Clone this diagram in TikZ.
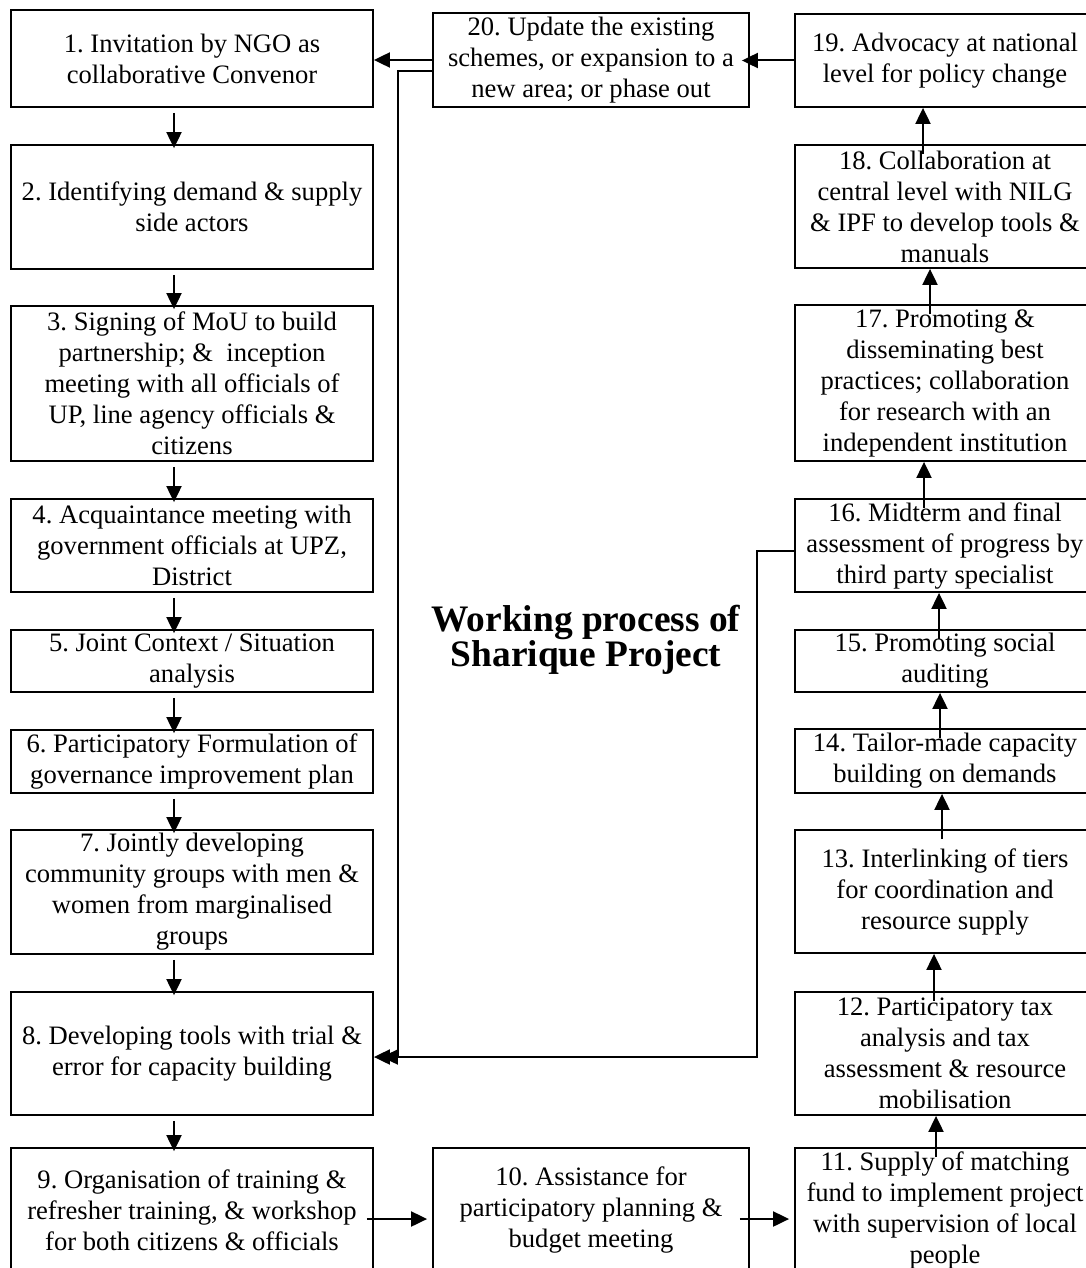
\documentclass[tikz,border=0pt]{standalone}
\usepackage{fontspec}
\setmainfont{Liberation Serif}
\frenchspacing
\usetikzlibrary{arrows.meta}
\tikzset{
>={Triangle[length=8pt,width=7.5pt]}, % filled arrow heads
step box/.style={draw, line width=0.9pt, inner sep=0pt, align=center, font=\fontsize{13.3pt}{15.5pt}\selectfont}, % every numbered box
left box/.style={step box, minimum width=181pt}, % steps 1-9
mid box/.style={step box, minimum width=158pt}, % steps 10 and 20
right box/.style={step box, minimum width=150pt}, % steps 11-19
flow/.style={->, line width=1pt}, % connectors
}
\begin{document}
\begin{tikzpicture}[x=0.5pt, y=-0.5pt]
  \useasboundingbox (0,0) rectangle (1086,1268);

  % left column, going down
  \node[left box, minimum height=48.5pt] (n1) at (192,58.5) {1. Invitation by NGO as\\collaborative Convenor};
  \node[left box, minimum height=62pt] (n2) at (192,207) {2. Identifying demand \& supply\\side actors};
  \node[left box, minimum height=77.5pt] (n3) at (192,383.5) {3. Signing of MoU to build\\partnership; \&\ \ inception\\meeting with all officials of\\UP, line agency officials \&\\citizens};
  \node[left box, minimum height=46.5pt] (n4) at (192,545.5) {4. Acquaintance meeting with\\government officials at UPZ,\\District};
  \node[left box, minimum height=31pt] (n5) at (192,661) {5. Joint Context / Situation\\analysis};
  \node[left box, minimum height=31.5pt] (n6) at (192,761.5) {6. Participatory Formulation of\\governance improvement plan};
  \node[left box, minimum height=62pt] (n7) at (192,892) {7. Jointly developing\\community groups with men \&\\women from marginalised\\groups};
  \node[left box, minimum height=61.5pt] (n8) at (192,1053.5) {8. Developing tools with trial \&\\error for capacity building};
  \node[left box, minimum height=62pt] (n9) at (192,1210) {9. Organisation of training \&\\refresher training, \& workshop\\for both citizens \& officials};

  % middle
  \node[mid box, minimum height=62pt] (n10) at (591,1210) {10. Assistance for\\participatory planning \&\\budget meeting};
  \node[mid box, minimum height=47pt] (n20) at (591,60) {20. Update the existing\\schemes, or expansion to a\\new area; or phase out};
  \node[font=\fontsize{18.7pt}{17.5pt}\selectfont\bfseries, align=center] (title) at (586,640) {Working process of\\Sharique Project};

  % right column, going up
  \node[right box, minimum height=62pt] (n11) at (945,1210) {11. Supply of matching\\fund to implement project\\with supervision of local\\people};
  \node[right box, minimum height=61.5pt] (n12) at (945,1053.5) {12. Participatory tax\\analysis and tax\\assessment \& resource\\mobilisation};
  \node[right box, minimum height=61.5pt] (n13) at (945,891.5) {13. Interlinking of tiers\\for coordination and\\resource supply};
  \node[right box, minimum height=32pt] (n14) at (945,761) {14. Tailor-made capacity\\building on demands};
  \node[right box, minimum height=31pt] (n15) at (945,661) {15. Promoting social\\auditing};
  \node[right box, minimum height=46.5pt] (n16) at (945,545.5) {16. Midterm and final\\assessment of progress by\\third party specialist};
  \node[right box, minimum height=78pt] (n17) at (945,383) {17. Promoting \&\\disseminating best\\practices; collaboration\\for research with an\\independent institution};
  \node[right box, minimum height=61.5pt] (n18) at (945,206.5) {18. Collaboration at\\central level with NILG\\\& IPF to develop tools \&\\manuals};
  \node[right box, minimum height=46.5pt] (n19) at (945,60.5) {19. Advocacy at national\\level for policy change};

  % down the left side
  \foreach \a/\b in {n1/n2, n2/n3, n3/n4, n4/n5, n5/n6, n6/n7, n7/n8, n8/n9}
    \draw[flow, shorten <=2.5pt, shorten >=-2pt] ([xshift=-9pt]\a.south) -- ([xshift=-9pt]\b.north);

  % up the right side
  \foreach \a/\b/\d in {n11/n12/-4.5, n12/n13/-5.5, n13/n14/-1.5, n14/n15/-2.5, n15/n16/-3, n16/n17/-10.5, n17/n18/-7.5, n18/n19/-11}
    \draw[flow, shorten <=-5pt] ([xshift=\d pt]\a.north) -- ([xshift=\d pt]\b.south);

  % along the bottom and the top
  \draw[flow, shorten <=-3.5pt, shorten >=2.5pt] ([yshift=-4.5pt]n9.east) -- ([yshift=-4.5pt]n10.west);
  \draw[flow, shorten <=-5pt, shorten >=2.5pt] ([yshift=-4.5pt]n10.east) -- ([yshift=-4.5pt]n11.west);
  \draw[flow, shorten >=-4pt] (n19.west) -- (n19.west -| n20.east);
  \draw[flow] (n20.west) -- (n20.west -| n1.east);

  % feedback into step 8
  \draw[flow, shorten >=4pt] ([yshift=-5.5pt]n20.west) -- ++(-34,0) |- ([yshift=-1.75pt]n8.east);
  \draw[flow] ([yshift=-2.75pt]n16.west) -- ++(-37,0) |- ([yshift=-1.75pt]n8.east);
\end{tikzpicture}
\end{document}
